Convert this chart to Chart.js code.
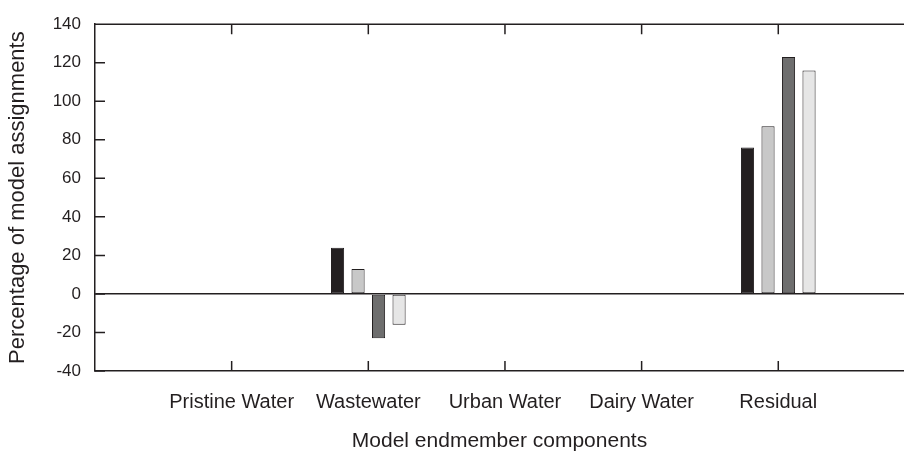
<!DOCTYPE html>
<html>
<head>
<meta charset="utf-8">
<script src="https://cdn.jsdelivr.net/npm/chart.js@4"></script>
<style>
  html, body { margin: 0; padding: 0; background: #ffffff; }
  canvas { display: block; }
</style>
</head>
<body>
<canvas id="c" width="904" height="452" style="width:904px;height:452px"></canvas>
<script>
const categories = ['Pristine Water', 'Wastewater', 'Urban Water', 'Dairy Water', 'Residual'];
const seriesA = [0, 24, 0, 0, 76];
const seriesB = [0, 13, 0, 0, 87];
const seriesC = [0, -23, 0, 0, 123];
const seriesD = [0, -16, 0, 0, 116];
const yTicks = [-40, -20, 0, 20, 40, 60, 80, 100, 120, 140];
const xMin = 0, xMax = 5.92;   // axis range in category slots (frame runs past the right edge)

const ink = '#231f20';
const FONT = "'Liberation Sans', Arial, sans-serif";
const toPoints = arr => arr.map((v, i) => ({ x: i + 1, y: v }));
const catLabel = v => categories[v - 1] || '';

const innerTicks = {
  id: 'innerTicks',
  afterDraw(chart) {
    const ctx = chart.ctx;
    const a = chart.chartArea;
    const xs = chart.scales.x, ys = chart.scales.y;
    ctx.save();
    ctx.strokeStyle = ink;
    ctx.lineWidth = 1.5;
    ctx.beginPath();
    ctx.moveTo(a.left, a.top);
    ctx.lineTo(a.right, a.top);
    ys.ticks.forEach(t => {
      const y = ys.getPixelForValue(t.value);
      ctx.moveTo(a.left, y);
      ctx.lineTo(a.left + 10, y);
    });
    xs.ticks.forEach(t => {
      if (!catLabel(t.value)) return;
      const x = xs.getPixelForValue(t.value);
      ctx.moveTo(x, a.bottom);
      ctx.lineTo(x, a.bottom - 10);
      ctx.moveTo(x, a.top);
      ctx.lineTo(x, a.top + 10);
    });
    ctx.stroke();
    ctx.restore();
  }
};

const mk = (label, data, color) => ({
  label, data: toPoints(data),
  backgroundColor: color,
  borderColor: ink,
  borderWidth: 1,
  borderSkipped: false,
  categoryPercentage: 0.6,
  barPercentage: 0.64
});

new Chart(document.getElementById('c'), {
  type: 'bar',
  data: {
    datasets: [
      mk('Series 1', seriesA, '#231f20'),
      mk('Series 2', seriesB, '#c8c8c8'),
      mk('Series 3', seriesC, '#6e6e6e'),
      mk('Series 4', seriesD, '#e6e6e6')
    ]
  },
  options: {
    responsive: false,
    animation: false,
    devicePixelRatio: 1,
    layout: { padding: { top: 21, left: 0, right: 0, bottom: 0 } },
    plugins: { legend: { display: false }, tooltip: { enabled: false } },
    scales: {
      x: {
        type: 'linear',
        min: xMin, max: xMax,
        offset: false,
        grid: { display: false, drawTicks: false },
        border: { display: true, color: ink, width: 1.5 },
        ticks: {
          stepSize: 1, includeBounds: false,
          autoSkip: false, maxRotation: 0, padding: 19,
          color: ink, font: { family: FONT, size: 20 },
          callback: v => catLabel(v)
        },
        title: {
          display: true, text: 'Model endmember components',
          color: ink, font: { family: FONT, size: 21, lineHeight: 1 },
          padding: { top: 0, bottom: 0 }
        },
        afterFit(s) { s.height = 81; s.paddingRight = 0; s.paddingLeft = 0; }
      },
      y: {
        min: -40, max: 140,
        grid: {
          drawTicks: false,
          color: c => (c.tick && c.tick.value === 0) ? ink : 'rgba(0,0,0,0)',
          lineWidth: 1.5
        },
        border: { display: true, color: ink, width: 1.5 },
        afterBuildTicks(s) { s.ticks = yTicks.map(v => ({ value: v })); },
        ticks: {
          padding: 14, color: ink,
          font: { family: FONT, size: 17 }
        },
        title: {
          display: true, text: 'Percentage of model assignments',
          color: ink, font: { family: FONT, size: 22, lineHeight: 1.2 },
          padding: { top: 5, bottom: 0 }
        },
        afterFit(s) { s.width = 95; }
      }
    }
  },
  plugins: [innerTicks]
});
</script>
</body>
</html>
